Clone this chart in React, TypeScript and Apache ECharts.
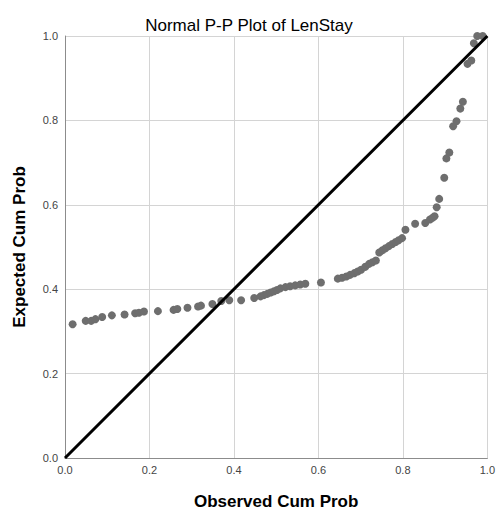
import React, { useEffect, useRef } from "react";
import * as echarts from "echarts";

const observedCumProb = [
  0.018, 0.049, 0.062, 0.072, 0.088, 0.111, 0.141, 0.166, 0.175, 0.187,
  0.220, 0.257, 0.266, 0.290, 0.315, 0.322, 0.349, 0.370, 0.389, 0.417,
  0.448, 0.463, 0.471, 0.479, 0.487, 0.495, 0.502, 0.510, 0.522, 0.533,
  0.545, 0.557, 0.569, 0.606, 0.646, 0.656, 0.666, 0.675, 0.685, 0.693,
  0.701, 0.711, 0.720, 0.728, 0.736, 0.744, 0.751, 0.759, 0.767, 0.775,
  0.783, 0.790, 0.798, 0.806, 0.829, 0.853, 0.864, 0.870, 0.875, 0.880,
  0.886, 0.898, 0.903, 0.910, 0.919, 0.927, 0.936, 0.942, 0.953, 0.962,
  0.968, 0.976, 0.989,
];
const expectedCumProb = [
  0.317, 0.325, 0.325, 0.329, 0.334, 0.338, 0.340, 0.343, 0.344, 0.347,
  0.348, 0.351, 0.353, 0.356, 0.359, 0.361, 0.365, 0.372, 0.374, 0.374,
  0.379, 0.383, 0.386, 0.389, 0.392, 0.395, 0.398, 0.402, 0.405, 0.407,
  0.409, 0.411, 0.413, 0.416, 0.425, 0.427, 0.430, 0.434, 0.438, 0.442,
  0.446, 0.453, 0.460, 0.464, 0.468, 0.487, 0.492, 0.497, 0.502, 0.507,
  0.512, 0.516, 0.521, 0.541, 0.555, 0.557, 0.565, 0.569, 0.573, 0.594,
  0.614, 0.664, 0.710, 0.724, 0.786, 0.798, 0.828, 0.844, 0.934, 0.942,
  0.983, 1.0, 1.0,
];
const referenceLine = [
  [0, 0],
  [1, 1],
];
const tickLabels = ["0.0", "0.2", "0.4", "0.6", "0.8", "1.0"];

const title = "Normal P-P Plot of LenStay";
const xName = "Observed Cum Prob";
const yName = "Expected Cum Prob";

export default function App() {
  const ref = useRef<HTMLDivElement>(null);
  useEffect(() => {
    if (!ref.current) return;
    const chart = echarts.init(ref.current, undefined, { renderer: "svg" });
    const font = "'Liberation Sans', Arial, sans-serif";
    const fmt = (v: number) => tickLabels[Math.round(v / 0.2)] ?? v.toFixed(1);
    const axisCommon = {
      type: "value" as const,
      min: 0,
      max: 1,
      interval: 0.2,
      nameLocation: "middle" as const,
      nameTextStyle: { fontFamily: font, fontSize: 17, fontWeight: "bold" as const, color: "#000" },
      axisLine: { show: true, lineStyle: { color: "#8c8c8c", width: 1 } },
      axisTick: { show: false },
      splitLine: { show: true, lineStyle: { color: "#d4d4d4", width: 1 } },
      axisLabel: {
        fontFamily: font,
        fontSize: 11,
        color: "#444",
        formatter: fmt,
        showMinLabel: true,
        showMaxLabel: true,
      },
    };
    chart.setOption({
      animation: false,
      backgroundColor: "#fff",
      title: {
        text: title,
        left: "center",
        top: 12,
        textStyle: { fontFamily: font, fontSize: 17, fontWeight: "normal", color: "#000" },
      },
      grid: { left: 65, right: 5, top: 36, bottom: 52, containLabel: false },
      xAxis: {
        ...axisCommon,
        name: xName,
        nameGap: 35,
        axisLabel: { ...axisCommon.axisLabel, margin: 6 },
      },
      yAxis: {
        ...axisCommon,
        name: yName,
        nameGap: 37,
        axisLabel: { ...axisCommon.axisLabel, margin: 7 },
      },
      series: [
        {
          type: "scatter",
          data: observedCumProb.map((x, i) => [x, expectedCumProb[i]]),
          symbol: "circle",
          symbolSize: 8,
          itemStyle: { color: "#6e6e6e", opacity: 1 },
          z: 2,
        },
        {
          type: "line",
          data: referenceLine,
          symbol: "none",
          lineStyle: { color: "#000", width: 3 },
          z: 3,
        },
      ],
    });
    return () => chart.dispose();
  }, []);
  return <div ref={ref} style={{ width: 498, height: 515, position: "absolute", left: 0, top: 0 }} />;
}
